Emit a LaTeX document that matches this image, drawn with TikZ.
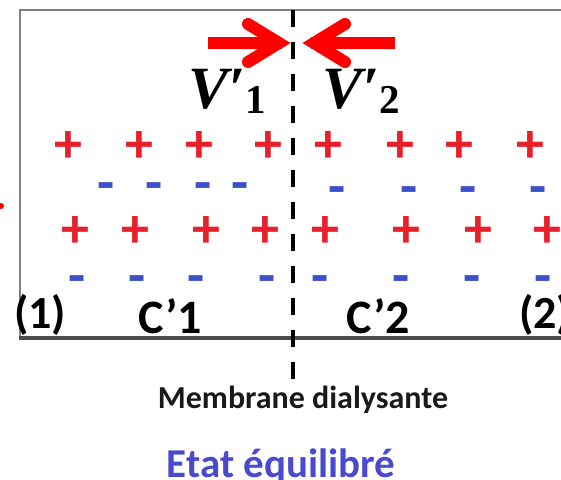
\documentclass[tikz,border=0pt]{standalone}
\usepackage{fontspec}
\setmainfont{Carlito}
\newfontfamily\vfont{Liberation Serif}
\definecolor{plusred}{HTML}{E8202A}
\definecolor{minusblue}{HTML}{3C50C8}
\definecolor{arrred}{HTML}{FF0000}
\definecolor{etatblue}{HTML}{4A4ACF}
\newcommand{\vlab}[1]{{\vfont\bfseries\fontsize{60}{60}\selectfont\itshape V\kern1pt\upshape ′\kern-1pt\raisebox{-5pt}{\fontsize{41}{41}\selectfont #1}}}
\begin{document}
\begin{tikzpicture}[x=1pt,y=-1pt,
  plus/.style={text=plusred, font=\bfseries\fontsize{56}{56}\selectfont, anchor=base, inner sep=0},
  minus/.style={text=minusblue, font=\bfseries\fontsize{56}{56}\selectfont, anchor=base, inner sep=0},
  lbl/.style={font=\bfseries\fontsize{48}{48}\selectfont, anchor=base, inner sep=0},
  num/.style={font=\bfseries\fontsize{46}{46}\selectfont, anchor=base west, inner sep=0},
  vlbl/.style={anchor=base west, inner sep=0},
  shaft/.style={draw=arrred, line width=12pt, line cap=butt},
  chev/.style={draw=arrred, line width=12pt, line cap=round, line join=miter}]
\clip (0,0) rectangle (561,479);
\fill[white] (0,0) rectangle (561,479);
% container
\draw[gray, line width=2pt] (561,10) -- (20,10) -- (20,338);
\draw[black!70, line width=3.5pt] (19,338) -- (561,338);
% membrane
\coordinate (mt) at (293,10);
\coordinate (mb) at (293,386);
\draw[black, line width=4.5pt, dash pattern=on 17pt off 15pt] (mt) -- (mb);
% arrows
\coordinate (tailL) at (208,43);
\coordinate (endL) at (282,43);
\coordinate (tipL) at (279,43);
\draw[shaft] (tailL) -- (endL);
\draw[chev] (248,24) -- (tipL) -- (248,62);
\coordinate (tailR) at (395,43);
\coordinate (endR) at (311,43);
\coordinate (tipR) at (314,43);
\draw[shaft] (tailR) -- (endR);
\draw[chev] (345,24) -- (tipR) -- (345,62);
% V labels
\node[vlbl] (v1) at (188,108) {\vlab{1}};
\node[vlbl] (v2) at (322,108) {\vlab{2}};
% charges
\foreach \x [count=\i] in {68,139,199,268,328,400,459,530}
  \node[plus] (pa\i) at (\x,162) {+};
\foreach \x [count=\i] in {106,154,203,240}
  \node[minus] (ma\i) at (\x,201) {-};
\foreach \x [count=\i] in {337,409,468,538}
  \node[minus] (mb\i) at (\x,205) {-};
\foreach \x [count=\i] in {75,135,206,265,325,406,478,547}
  \node[plus] (pb\i) at (\x,247) {+};
\foreach \x [count=\i] in {77,137,196,267,320,401,472,543}
  \node[minus] (mc\i) at (\x,294) {-};
\fill[red] (1,206) circle (3pt);
% labels
\node[num] (n1) at (14,328) {(1)};
\node[num] (n2) at (519,328) {(2)};
\node[lbl] (c1) at (170,333) {C’1};
\node[lbl] (c2) at (378,333) {C’2};
\node[font=\bfseries\fontsize{32}{32}\selectfont, anchor=base, inner sep=0, text=black!90] (mem) at (303,408) {Membrane dialysante};
\node[font=\bfseries\fontsize{41}{41}\selectfont, anchor=base, inner sep=0, text=etatblue] (etat) at (281,477) {Etat équilibré};
\end{tikzpicture}
\end{document}
